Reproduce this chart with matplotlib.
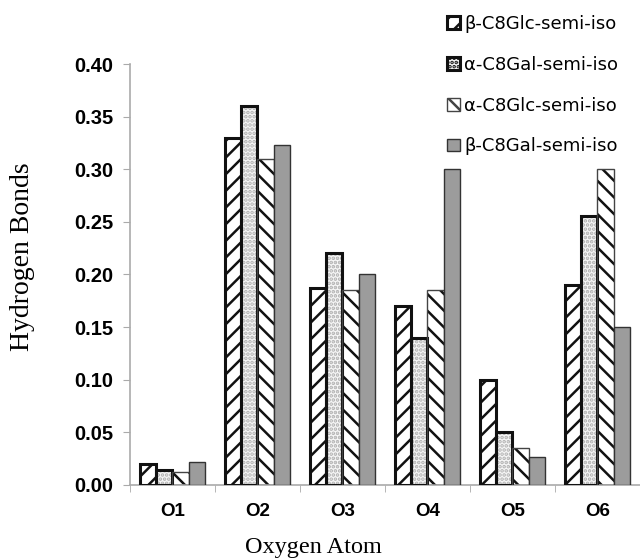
import numpy as np
import matplotlib.pyplot as plt

# ---- data ----
atoms = ["O1", "O2", "O3", "O4", "O5", "O6"]
labels = ["β-C8Glc-semi-iso", "α-C8Gal-semi-iso", "α-C8Glc-semi-iso", "β-C8Gal-semi-iso"]
b_glc = [0.020, 0.330, 0.187, 0.170, 0.100, 0.190]
a_gal = [0.014, 0.360, 0.220, 0.140, 0.050, 0.256]
a_glc = [0.012, 0.310, 0.185, 0.185, 0.035, 0.300]
b_gal = [0.022, 0.323, 0.200, 0.300, 0.027, 0.150]

series = [b_glc, a_gal, a_glc, b_gal]
# (face, hatch, hatch colour, edge colour, edge width)
styles = [
    ("white", "//", "#111111", "#111111", 2.2),
    ("#f6f6f6", "....", "#b0b0b0", "#111111", 2.2),
    ("white", "\\\\", "#111111", "#444444", 1.0),
    ("#9c9c9c", None, None, "#333333", 1.0),
]

plt.rcParams["hatch.linewidth"] = 1.8

fig = plt.figure(figsize=(6.4, 5.59), dpi=100)
ax = fig.add_axes([0.203, 0.1324, 0.797, 0.7531])

x = np.arange(len(atoms))
w = 0.19
handles = []
for i, (vals, st) in enumerate(zip(series, styles)):
    face, hatch, hcol, ecol, lw = st
    pos = x + (i - 1.5) * w
    if hatch:
        ax.bar(pos, vals, w, color=face, hatch=hatch, edgecolor=hcol, linewidth=0, zorder=2)
        ax.bar(pos, vals, w, fill=False, edgecolor=ecol, linewidth=lw, zorder=3)
    else:
        ax.bar(pos, vals, w, color=face, edgecolor=ecol, linewidth=lw, zorder=3)
    h = plt.Rectangle((0, 0), 1, 1, facecolor=face, hatch=hatch, edgecolor=ecol, linewidth=lw)
    handles.append(h)

ax.set_xlim(-0.5, 5.5)
ax.set_ylim(0, 0.40)
yt = np.arange(0, 0.41, 0.05)
ax.set_yticks(yt)
ax.set_yticklabels([f"{v:.2f}" for v in yt],
                   fontfamily="Liberation Sans", fontweight="bold", fontsize=14.5)
ax.set_xticks(x)
ax.set_xticklabels(atoms, fontfamily="Liberation Sans", fontweight="bold", fontsize=13.5)
ax.set_xticks(np.arange(-0.5, 5.6, 1), minor=True)
ax.tick_params(axis="x", which="major", length=0, pad=13)
ax.tick_params(axis="x", which="minor", length=5, color="#aaaaaa", direction="out")
ax.tick_params(axis="y", length=5, color="#aaaaaa", pad=7)

for s in ["top", "right"]:
    ax.spines[s].set_visible(False)
for s in ["left", "bottom"]:
    ax.spines[s].set_color("#aaaaaa")
    ax.spines[s].set_linewidth(1.2)

ax.set_ylabel("Hydrogen Bonds", fontfamily="Liberation Serif", fontsize=20)
ax.yaxis.set_label_coords(-0.186, 0.5416)
ax.set_xlabel("Oxygen Atom", fontfamily="Liberation Serif", fontsize=17.5)
ax.xaxis.set_label_coords(0.36, -0.124)

fig.legend(handles, labels, loc="upper left", bbox_to_anchor=(0.687, 0.986),
           frameon=False, fontsize=13, handlelength=0.7, handleheight=0.7,
           handletextpad=0.25, labelspacing=1.26, borderaxespad=0)

fig.savefig("out.png", dpi=100)
